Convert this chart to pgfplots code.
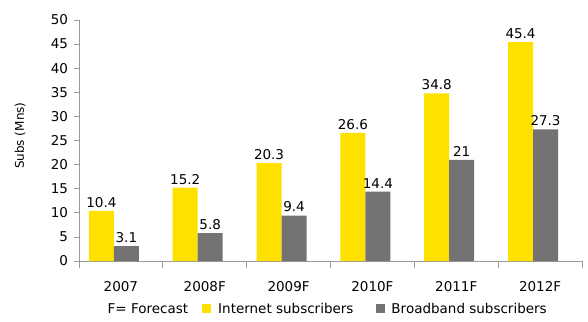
\documentclass[border=0pt]{standalone}
\usepackage{pgfplots}
\pgfplotsset{compat=1.18}
\usepackage{fontspec}
\setmainfont{DejaVu Sans}
\definecolor{eyyellow}{HTML}{FFE100}
\definecolor{eygray}{HTML}{737373}
\definecolor{axgray}{HTML}{9A9A9A}
\begin{document}
\begin{tikzpicture}
\begin{axis}[
  scale only axis,
  width=503pt, height=241pt,
  xmin=-0.5, xmax=5.5,
  ymin=0, ymax=50,
  axis x line=bottom, axis y line=left,
  axis line style={-, draw=axgray, line width=0.8pt},
  xtick={0,1,2,3,4,5},
  xticklabels={2007,2008F,2009F,2010F,2011F,2012F},
  minor xtick={-0.5,0.5,1.5,2.5,3.5,4.5,5.5},
  ytick={0,5,...,50},
  tick align=outside,
  major tick length=5pt, minor tick length=7pt,
  x tick style={draw=none},
  minor x tick style={draw=axgray, line width=0.8pt},
  y tick style={draw=axgray, line width=0.8pt},
  tick label style={font=\fontsize{13.5}{15}\selectfont, text=black},
  /pgf/number format/assume math mode=true,
  yticklabel style={xshift=-2.5pt},
  xticklabel style={yshift=-11.5pt},
  ylabel={Subs (Mns)},
  ylabel style={font=\fontsize{12}{14}\selectfont, at={(axis description cs:-0.117,0.52)}, anchor=center},
  nodes near coords,
  every node near coord/.append style={font=\fontsize{13.5}{15}\selectfont, text=black},
  legend columns=-1,
  legend style={draw=none, fill=none, at={(0.4935,-0.199)}, anchor=center,
    font=\fontsize{13.5}{15}\selectfont,
    /tikz/column 2/.style={column sep=12pt},
    /tikz/column 3/.style={column sep=5pt},
    /tikz/column 4/.style={column sep=21pt},
    /tikz/column 5/.style={column sep=4pt}},
  legend image code/.code={\fill[#1] (0pt,-4.5pt) rectangle (9pt,4.5pt);},
]
\addlegendimage{empty legend}
\addlegendentry{F= Forecast}
\addplot[ybar, bar width=0.298, bar shift=0, fill=eyyellow, draw=none]
  coordinates {(-0.233,10.4) (0.767,15.2) (1.767,20.3) (2.767,26.6) (3.767,34.8) (4.767,45.4)};
\addlegendentry{Internet subscribers}
\addplot[ybar, bar width=0.298, bar shift=0, fill=eygray, draw=none]
  coordinates {(0.065,3.1) (1.065,5.8) (2.065,9.4) (3.065,14.4) (4.065,21) (5.065,27.3)};
\addlegendentry{Broadband subscribers}
\end{axis}
\path (current axis.south west) ++(-79pt,-60pt) coordinate (bbA);
\path (current axis.north east) ++(6pt,20pt) coordinate (bbB);
\useasboundingbox (bbA) rectangle (bbB);
\end{tikzpicture}
\end{document}
